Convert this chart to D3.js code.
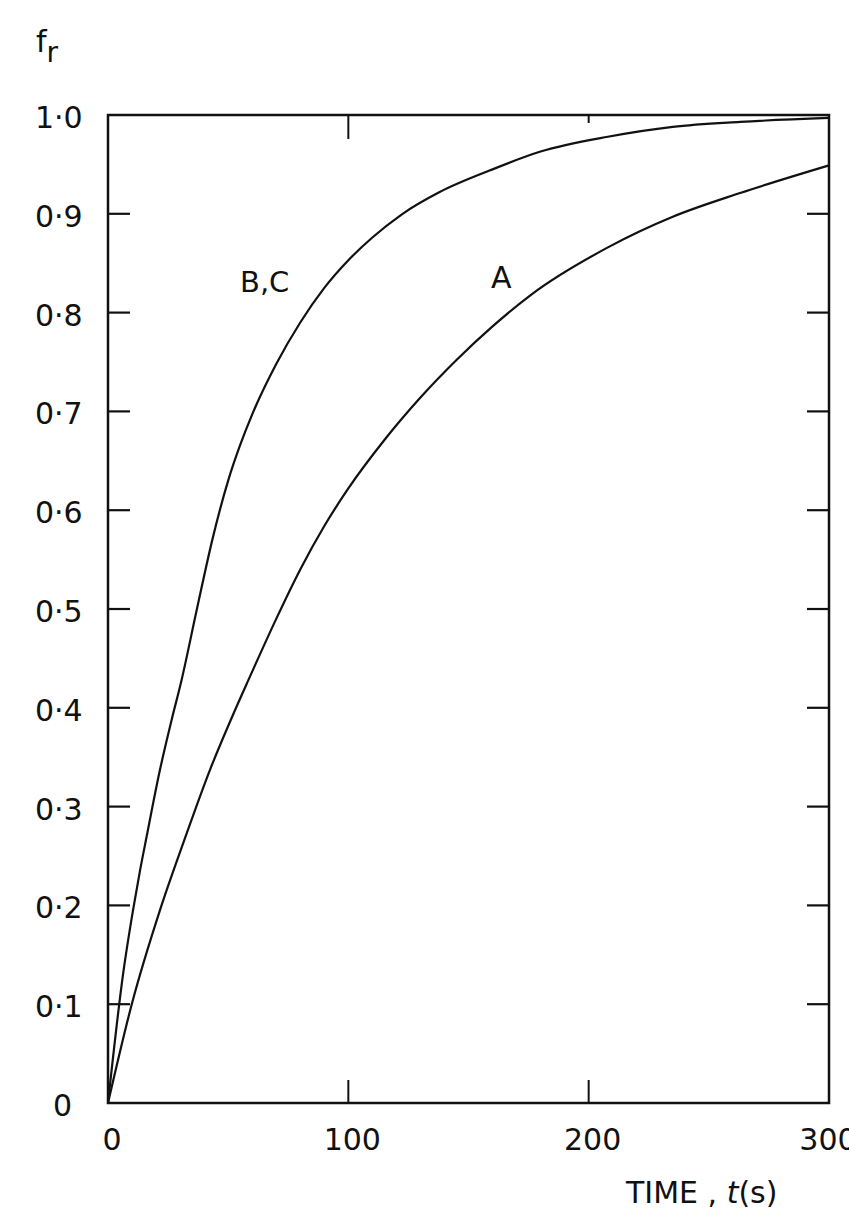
<!DOCTYPE html>
<html>

<head>
  <meta charset="UTF-8" />
  <title>fr vs time</title>
  <script src="https://d3js.org/d3.v7.min.js"></script>
  <style>
    body { margin: 0; background: white; }
    text { font-family: "DejaVu Sans", sans-serif; fill: #111; }
  </style>
</head>

<body>
<div id="chart"></div>

<script>
  // curve B,C  (time in s, fraction f_r)
  var timeBC = [0, 6.3, 10.4, 13.3, 16.1, 21.6, 26.5, 30.6, 37, 43.7, 50, 55, 60, 70, 80, 90, 100, 110, 122, 138, 159, 180, 208, 235, 263, 300];
  var frBC = [0, 0.131, 0.195, 0.235, 0.27, 0.337, 0.388, 0.428, 0.50, 0.573, 0.630, 0.666, 0.697, 0.748, 0.790, 0.825, 0.853, 0.876, 0.899, 0.922, 0.944, 0.963, 0.978, 0.988, 0.993, 0.997];

  // curve A
  var timeA = [0, 10, 21.6, 31.3, 42.4, 52.2, 58.4, 70, 80, 90, 100, 115, 130, 145, 160, 176, 208, 235, 263, 300];
  var frA = [0, 0.101, 0.195, 0.263, 0.337, 0.394, 0.428, 0.490, 0.540, 0.584, 0.622, 0.671, 0.714, 0.752, 0.786, 0.818, 0.866, 0.897, 0.921, 0.949];

  var xTicks = [0, 100, 200, 300];
  var xTickLabels = ["0", "100", "200", "300"];
  var yTicks = [0, 0.1, 0.2, 0.3, 0.4, 0.5, 0.6, 0.7, 0.8, 0.9, 1.0];
  var yTickLabels = ["0", "0·1", "0·2", "0·3", "0·4", "0·5", "0·6", "0·7", "0·8", "0·9", "1·0"];

  drawChart();

  function drawChart() {
    var svg = d3.select("#chart")
      .append("svg")
      .attr("width", 849)
      .attr("height", 1217);

    var xScale = d3.scaleLinear().domain([0, 300]).range([108, 829]);
    var yScale = d3.scaleLinear().domain([0, 1]).range([1103, 115]);

    // frame
    svg.append("rect")
      .attr("x", xScale(0))
      .attr("y", yScale(1))
      .attr("width", xScale(300) - xScale(0))
      .attr("height", yScale(0) - yScale(1))
      .attr("fill", "none")
      .attr("stroke", "#111")
      .attr("stroke-width", 2.5);

    // inward ticks left and right
    var inner = yTicks.filter(d => d > 0 && d < 1);
    svg.selectAll(".ytickL")
      .data(inner)
      .enter()
      .append("line")
      .attr("x1", xScale(0))
      .attr("x2", xScale(0) + 22)
      .attr("y1", d => yScale(d))
      .attr("y2", d => yScale(d))
      .attr("stroke", "#111")
      .attr("stroke-width", 2.2);
    svg.selectAll(".ytickR")
      .data(inner)
      .enter()
      .append("line")
      .attr("x1", xScale(300))
      .attr("x2", xScale(300) - 22)
      .attr("y1", d => yScale(d))
      .attr("y2", d => yScale(d))
      .attr("stroke", "#111")
      .attr("stroke-width", 2.2);

    // ticks top and bottom
    var xInner = xTicks.filter(d => d > 0 && d < 300);
    svg.selectAll(".xtickB")
      .data(xInner)
      .enter()
      .append("line")
      .attr("x1", d => xScale(d))
      .attr("x2", d => xScale(d))
      .attr("y1", yScale(0))
      .attr("y2", yScale(0) - 23)
      .attr("stroke", "#111")
      .attr("stroke-width", 2);
    svg.selectAll(".xtickT")
      .data(xInner)
      .enter()
      .append("line")
      .attr("x1", d => xScale(d))
      .attr("x2", d => xScale(d))
      .attr("y1", yScale(1))
      .attr("y2", (d, i) => yScale(1) + (i == 0 ? 24 : 8))
      .attr("stroke", "#111")
      .attr("stroke-width", 2);

    // tick labels
    svg.selectAll(".ylab")
      .data(yTicks)
      .enter()
      .append("text")
      .attr("x", (d, i) => i == 0 ? 53 : 35)
      .attr("y", d => yScale(d) + 13)
      .attr("font-size", 30)
      .text((d, i) => yTickLabels[i]);

    svg.selectAll(".xlab")
      .data(xTicks)
      .enter()
      .append("text")
      .attr("x", (d, i) => xScale(d) + (i == 3 ? -1 : 4))
      .attr("y", 1150)
      .attr("text-anchor", "middle")
      .attr("font-size", 30)
      .text((d, i) => xTickLabels[i]);

    // axis titles
    var fr = svg.append("text")
      .attr("x", 36)
      .attr("y", 52)
      .attr("font-size", 30);
    fr.append("tspan").text("f");
    fr.append("tspan").attr("dy", 10).attr("font-size", 28).text("r");

    var tl = svg.append("text")
      .attr("x", 626)
      .attr("y", 1203)
      .attr("font-size", 30);
    tl.append("tspan").text("TIME , ");
    tl.append("tspan").attr("font-style", "italic").text("t");
    tl.append("tspan").text("(s)");

    // curves
    var line = d3.line()
      .x(d => xScale(d[0]))
      .y(d => yScale(d[1]))
      .curve(d3.curveMonotoneX);

    var bc = timeBC.map((t, i) => [t, frBC[i]]);
    var a = timeA.map((t, i) => [t, frA[i]]);

    [bc, a].forEach(function (pts) {
      svg.append("path")
        .datum(pts)
        .attr("d", line)
        .attr("fill", "none")
        .attr("stroke", "#111")
        .attr("stroke-width", 2.2);
    });

    // curve labels
    svg.append("text").attr("x", 240).attr("y", 292).attr("font-size", 29).text("B,C");
    svg.append("text").attr("x", 491).attr("y", 288).attr("font-size", 30).text("A");
  }
</script>
</body>

</html>
